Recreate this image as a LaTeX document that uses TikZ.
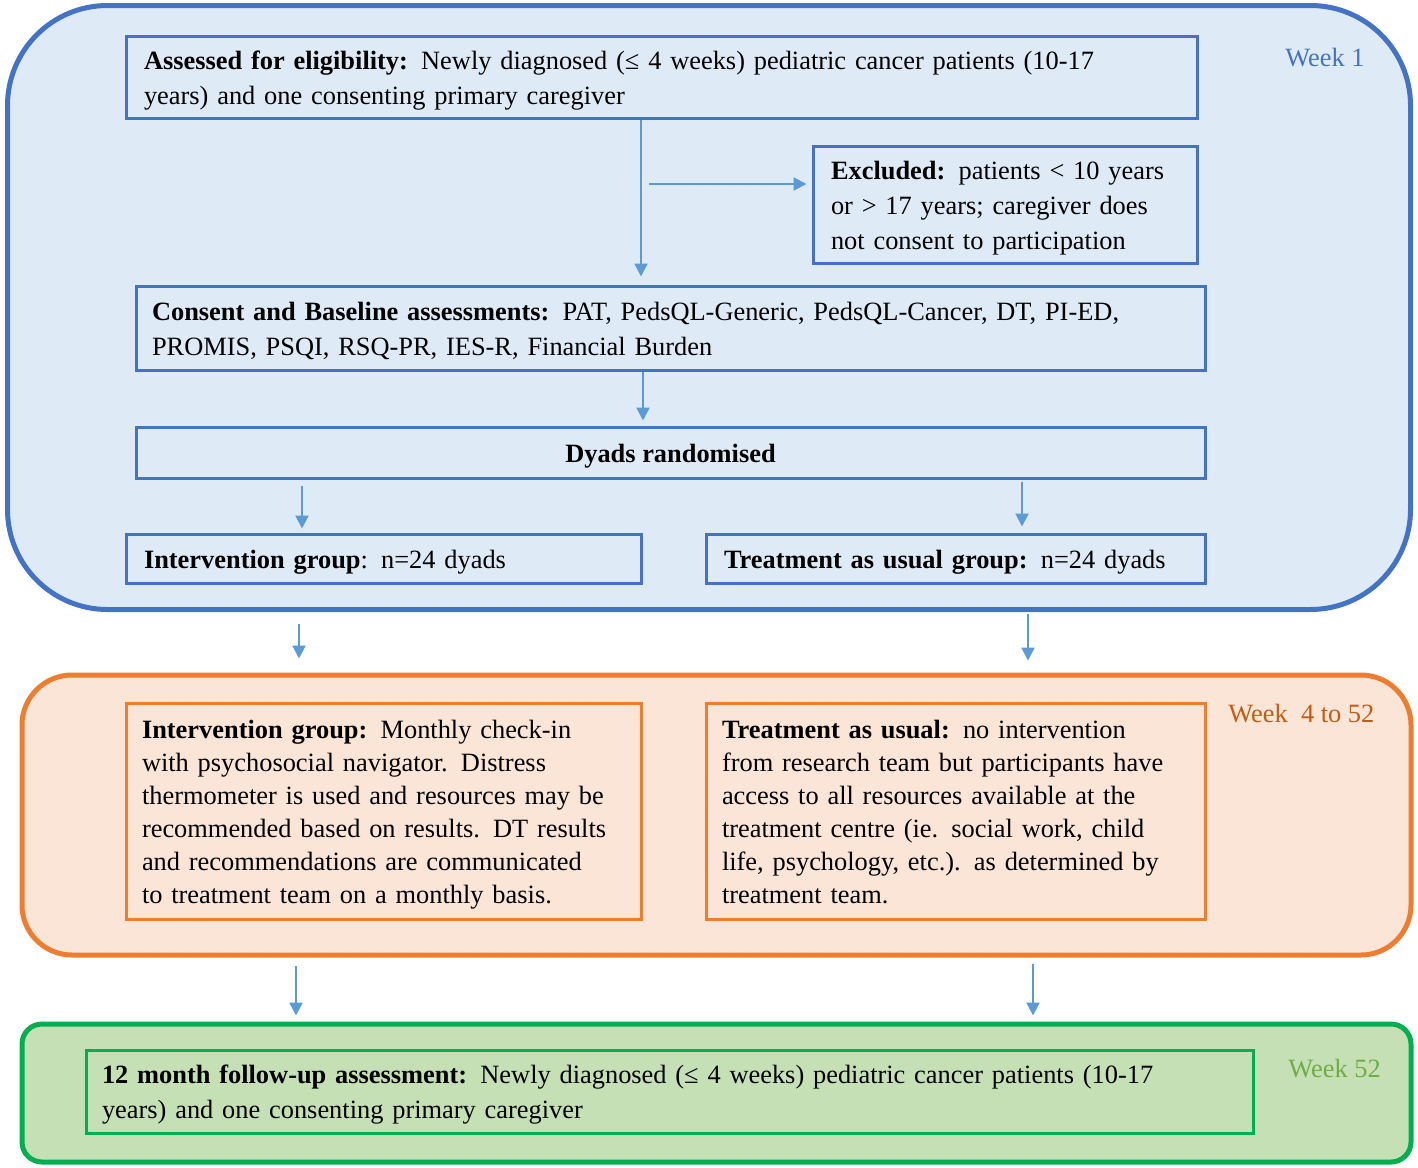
\documentclass[tikz,border=0pt]{standalone}
\usepackage{fontspec}
\setmainfont{Liberation Serif}
\usetikzlibrary{arrows.meta}
\definecolor{bfill}{HTML}{DEEBF7}
\definecolor{bline}{HTML}{4472C4}
\definecolor{arrc}{HTML}{5B9BD5}
\definecolor{ofill}{HTML}{FBE5D6}
\definecolor{oline}{HTML}{ED7D31}
\definecolor{otext}{HTML}{C55A11}
\definecolor{gfill}{HTML}{C5E0B4}
\definecolor{gline}{HTML}{00B050}
\definecolor{gtext}{HTML}{70AD47}
\tikzset{
  phase/.style={draw, line width=2.5pt, inner sep=0pt},
  ibox/.style={draw, line width=1.5pt, inner xsep=9pt, inner ysep=0pt, align=left,
    font=\fontsize{13.2}{17.5}\selectfont, text=black,
    execute at begin node={\rule{0pt}{12.8pt}},
    execute at end node={\rule[-3pt]{0pt}{3pt}}},
  arr/.style={draw=arrc, line width=1.1pt, -{Triangle[width=6.5pt,length=6.5pt]}},
  wk/.style={font=\fontsize{13.2}{15}\selectfont, anchor=west, inner sep=0pt}
}
\begin{document}
\begin{tikzpicture}[x=0.5pt,y=-0.5pt]
\useasboundingbox (0,0) rectangle (1418,1167);
% phases
\node[phase, draw=bline, fill=bfill, rounded corners=50pt, minimum width=701.5pt, minimum height=302pt] (p1) at (709,307.5) {};
\node[phase, draw=oline, fill=ofill, rounded corners=25pt, minimum width=694.5pt, minimum height=140pt] (p2) at (716.5,815) {};
\node[phase, draw=gline, fill=gfill, rounded corners=10pt, minimum width=694.5pt, minimum height=69pt] (p3) at (716.5,1093) {};
% week labels
\node[wk, text=bline] (w1) at (1285,58) {Week 1};
\node[wk, text=otext] (w2) at (1228,714) {Week~ 4 to 52};
\node[wk, text=gtext] (w3) at (1288,1069) {Week 52};
% blue boxes
\node[ibox, draw=bline, minimum width=535.5pt, minimum height=41pt, text width=517.5pt] (assess) at (661.5,77)
 {\textbf{Assessed for eligibility:} Newly diagnosed (≤ 4 weeks) pediatric cancer patients (10-17\\ years) and one consenting primary caregiver};
\node[ibox, draw=bline, minimum width=192pt, minimum height=58.5pt, text width=174pt] (excl) at (1005,204.5)
 {\textbf{Excluded:} patients < 10 years\\ or > 17 years; caregiver does\\ not consent to participation};
\node[ibox, draw=bline, minimum width=534.5pt, minimum height=42pt, text width=518.5pt, inner xsep=8pt] (cons) at (670.5,328)
 {\textbf{Consent and Baseline assessments:} PAT, PedsQL-Generic, PedsQL-Cancer, DT, PI-ED,\\ PROMIS, PSQI, RSQ-PR, IES-R, Financial Burden};
\node[ibox, draw=bline, minimum width=534.5pt, minimum height=25.5pt, align=center] (dyads) at (670.5,452.5)
 {\textbf{Dyads randomised}};
\node[ibox, draw=bline, minimum width=257.5pt, minimum height=24.5pt, text width=239.5pt] (ig) at (383.5,558.5)
 {\textbf{Intervention group}: n=24 dyads};
\node[ibox, draw=bline, minimum width=249.5pt, minimum height=24.5pt, text width=231.5pt] (tg) at (955.5,558.5)
 {\textbf{Treatment as usual group:} n=24 dyads};
% orange boxes
\node[ibox, draw=oline, minimum width=257.5pt, minimum height=108pt, text width=241.5pt, inner xsep=8pt,
  font=\fontsize{13.2}{16.5}\selectfont] (io) at (383.5,811)
 {\textbf{Intervention group:} Monthly check-in\\ with psychosocial navigator. Distress\\ thermometer is used and resources may be\\ recommended based on results. DT results\\ and recommendations are communicated\\ to treatment team on a monthly basis.};
\node[ibox, draw=oline, minimum width=249.5pt, minimum height=108pt, text width=233.5pt, inner xsep=8pt,
  font=\fontsize{13.2}{16.5}\selectfont] (to) at (955.5,811)
 {\textbf{Treatment as usual:} no intervention\\ from research team but participants have\\ access to all resources available at the\\ treatment centre (ie. social work, child\\ life, psychology, etc.). as determined by\\ treatment team.};
% green box
\node[ibox, draw=gline, minimum width=583.5pt, minimum height=41.5pt, text width=567.5pt, inner xsep=8pt] (fu) at (669.5,1091.5)
 {\textbf{12 month follow-up assessment:} Newly diagnosed (≤ 4 weeks) pediatric cancer patients (10-17\\ years) and one consenting primary caregiver};
% x positions
\coordinate (xa) at (641,0);
\coordinate (xb) at (643,0);
\coordinate (xl) at (302,0);
\coordinate (xr) at (1022,0);
\coordinate (xl2) at (299,0);
\coordinate (xr2) at (1028,0);
\coordinate (xl3) at (296,0);
\coordinate (xr3) at (1033,0);
\coordinate (ex) at (649,184);
% arrows
\draw[arr, shorten >=4pt] (assess.south -| xa) -- (cons.north -| xa);
\draw[arr, shorten >=2.5pt] (ex) -- (ex -| excl.west);
\draw[arr, shorten >=2.5pt] (cons.south -| xb) -- (dyads.north -| xb);
\draw[arr, shorten <=3pt, shorten >=2pt] (dyads.south -| xl) -- (ig.north -| xl);
\draw[arr, shorten <=1pt, shorten >=3pt] (dyads.south -| xr) -- (tg.north -| xr);
\draw[arr, shorten <=6pt, shorten >=7pt] (p1.south -| xl2) -- (p2.north -| xl2);
\draw[arr, shorten <=1pt, shorten >=6pt] (p1.south -| xr2) -- (p2.north -| xr2);
\draw[arr, shorten <=4pt, shorten >=3pt] (p2.south -| xl3) -- (p3.north -| xl3);
\draw[arr, shorten <=3pt, shorten >=3pt] (p2.south -| xr3) -- (p3.north -| xr3);
\end{tikzpicture}
\end{document}
